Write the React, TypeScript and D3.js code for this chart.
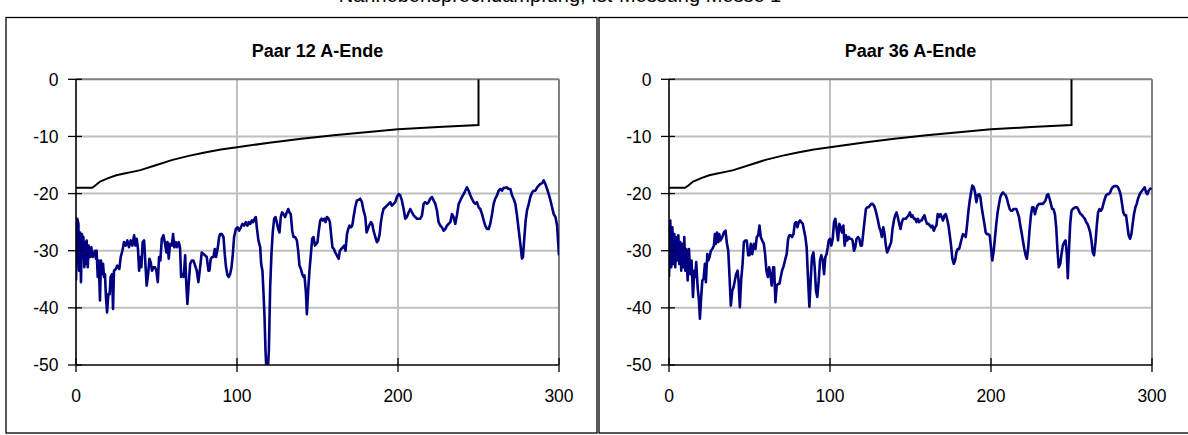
import React from 'react';
import * as d3 from 'd3';

const xTicks = [0, 100, 200, 300];
const yTicks = [0, -10, -20, -30, -40, -50];
const titles = ['Paar 12 A-Ende', 'Paar 36 A-Ende'];
const topCaption = 'Nahnebensprechdämpfung, Ist-Messung Messe 1';

// limit line (black)
const limitLine: [number, number][] = [
  [0, -19], [10, -19], [12, -18.6], [15, -17.9], [20, -17.3], [25, -16.8], [30, -16.5], [35, -16.2],
  [40, -15.9], [50, -15.0], [60, -14.1], [70, -13.4], [80, -12.8], [90, -12.3], [100, -11.9],
  [120, -11.1], [140, -10.4], [160, -9.8], [180, -9.25], [200, -8.75], [225, -8.35], [250, -8.0], [250, 0],
];

// measured NEXT, pair 12
const pair12: [number, number][] = [
  [0,-35.2],[0.8,-24.4],[1.5,-25.3],[1.9,-33.5],[2.5,-26.8],[3.1,-35.5],[3.7,-27.1],[4.1,-30.6],[4.6,-27.6],[5.2,-32.9],[5.8,-28.5],[6.2,-32.3],[6.6,-28.2],[7.3,-32.9],[7.9,-29.1],[8.7,-31.1],[9.5,-29.4],[10.4,-31.1],[11.2,-30.6],[11.8,-30.0],[12.4,-31.4],[12.8,-30.0],[13.5,-34.6],[14.1,-31.7],[14.9,-38.7],[15.5,-31.7],[16.2,-34.1],[16.8,-32.3],[17.4,-34.6],[18.0,-34.1],[18.6,-38.1],[19.3,-40.8],[20.1,-37.6],[20.9,-37.6],[21.5,-34.6],[22.4,-34.1],[23.0,-40.2],[23.6,-33.5],[24.7,-33.2],[25.7,-32.6],[26.9,-33.2],[27.8,-31.1],[28.8,-30.0],[29.8,-28.5],[30.9,-29.1],[31.9,-28.2],[32.9,-29.4],[34.0,-28.2],[35.0,-29.1],[36.1,-27.3],[36.9,-29.1],[37.7,-27.9],[38.5,-29.7],[39.2,-33.5],[39.8,-31.1],[40.6,-32.9],[41.4,-28.5],[42.3,-28.2],[43.1,-32.3],[43.9,-36.1],[44.8,-34.1],[45.6,-31.4],[46.4,-32.0],[47.2,-33.5],[48.1,-32.9],[49.1,-32.9],[49.9,-33.5],[50.8,-35.5],[51.6,-31.1],[52.4,-31.7],[53.3,-27.9],[54.3,-27.3],[55.3,-28.8],[56.2,-30.3],[56.8,-28.5],[57.6,-31.4],[58.4,-28.8],[59.5,-29.1],[60.3,-27.1],[61.1,-29.4],[62.0,-28.5],[62.8,-29.4],[63.8,-28.5],[64.6,-29.4],[65.3,-34.6],[66.1,-34.1],[66.9,-34.6],[67.8,-30.8],[68.6,-36.4],[69.2,-39.3],[70.0,-35.8],[70.9,-32.3],[71.9,-31.7],[72.9,-31.7],[74.0,-32.6],[75.0,-33.5],[76.0,-35.5],[77.1,-32.9],[78.1,-30.3],[79.2,-30.6],[80.2,-30.8],[81.2,-31.1],[82.3,-33.5],[82.9,-33.5],[83.7,-31.4],[84.5,-31.1],[85.4,-31.1],[86.2,-29.7],[87.0,-31.1],[88.1,-29.4],[88.9,-27.6],[89.5,-27.1],[90.6,-27.1],[91.6,-27.6],[92.4,-30.6],[93.2,-32.9],[94.1,-34.3],[94.9,-34.6],[95.7,-34.1],[96.6,-32.9],[97.4,-30.6],[98.2,-27.6],[99.3,-26.2],[100.3,-25.9],[101.3,-26.5],[102.4,-25.9],[103.4,-25.3],[104.4,-25.6],[105.5,-25.0],[106.5,-25.6],[107.3,-25.0],[108.2,-25.3],[109.2,-24.7],[110.0,-25.0],[110.9,-24.4],[111.7,-24.1],[112.3,-25.9],[113.3,-28.2],[114.4,-29.4],[115.0,-32.3],[115.8,-33.5],[116.4,-37.0],[117.1,-41.6],[117.7,-47.5],[118.3,-51],[119.1,-51],[119.8,-47.5],[120.6,-36.4],[121.4,-30.6],[122.2,-26.8],[123.1,-24.4],[123.9,-24.1],[124.7,-25.0],[125.6,-26.2],[126.4,-26.8],[127.2,-24.1],[128.0,-23.3],[128.9,-23.6],[129.9,-24.1],[130.9,-23.3],[131.8,-22.7],[132.6,-23.3],[133.4,-23.6],[134.3,-26.5],[135.1,-27.6],[136.1,-27.6],[137.2,-28.2],[138.0,-30.0],[138.8,-32.6],[139.7,-33.2],[140.5,-34.1],[141.3,-34.6],[141.9,-34.3],[142.8,-37.3],[143.4,-41.1],[144.2,-37.0],[145.0,-33.5],[145.9,-30.6],[146.7,-27.9],[147.5,-27.6],[148.4,-29.1],[149.2,-28.8],[150.0,-28.5],[150.8,-26.5],[151.7,-24.7],[152.5,-24.4],[153.3,-24.7],[154.2,-24.4],[155.0,-25.0],[155.8,-24.1],[156.9,-24.4],[157.7,-25.0],[158.5,-27.3],[159.3,-29.4],[160.2,-29.7],[161.0,-30.3],[162.0,-30.8],[163.1,-31.4],[163.9,-30.0],[164.7,-29.7],[165.8,-29.4],[166.6,-29.1],[167.4,-30.0],[168.3,-27.1],[169.1,-26.2],[169.9,-25.6],[170.7,-25.9],[171.6,-25.6],[172.4,-24.1],[173.4,-22.4],[174.5,-21.2],[175.5,-21.1],[176.5,-20.9],[177.6,-21.5],[178.6,-23.0],[179.7,-24.1],[180.5,-26.8],[181.3,-26.2],[182.1,-25.6],[183.2,-25.0],[184.0,-25.3],[184.8,-26.5],[185.9,-27.6],[186.9,-28.5],[187.7,-28.2],[188.6,-27.1],[189.4,-25.0],[190.2,-23.6],[191.0,-22.7],[192.1,-22.4],[193.1,-22.1],[194.2,-21.8],[195.2,-21.5],[196.2,-22.1],[197.3,-21.8],[198.3,-21.5],[199.3,-20.6],[200.4,-20.1],[201.4,-20.3],[202.4,-21.2],[203.5,-22.7],[204.5,-24.4],[205.5,-24.1],[206.6,-23.3],[207.6,-22.7],[208.7,-23.3],[209.7,-23.8],[210.7,-24.1],[211.8,-24.4],[212.8,-24.4],[213.8,-24.4],[214.9,-23.8],[215.9,-21.8],[216.9,-21.5],[218.0,-21.8],[219.0,-21.5],[220.0,-20.9],[221.1,-20.6],[222.1,-21.2],[223.2,-21.8],[224.2,-23.0],[225.2,-25.0],[226.3,-25.6],[227.3,-25.9],[228.3,-26.5],[229.4,-26.2],[230.4,-25.6],[231.4,-25.3],[232.5,-25.0],[233.5,-23.6],[234.5,-24.1],[235.6,-25.3],[236.6,-23.8],[237.7,-21.8],[238.7,-21.2],[239.7,-20.6],[240.8,-20.1],[241.8,-19.5],[242.8,-18.9],[243.9,-19.5],[244.9,-20.3],[245.9,-20.9],[247.0,-21.5],[248.0,-21.8],[249.0,-21.5],[250.1,-22.4],[251.1,-22.7],[252.2,-23.6],[253.2,-24.7],[254.2,-25.6],[255.3,-26.2],[256.3,-26.2],[257.3,-25.3],[258.4,-23.6],[259.4,-21.8],[260.4,-20.9],[261.5,-20.3],[262.5,-19.5],[263.6,-19.2],[264.6,-19.5],[265.6,-19.0],[266.7,-19.0],[267.7,-18.9],[268.7,-19.2],[269.8,-19.2],[270.8,-20.3],[271.8,-20.9],[272.9,-21.8],[273.9,-23.8],[274.9,-26.2],[276.0,-28.8],[277.0,-31.4],[277.6,-31.1],[278.5,-27.6],[279.3,-24.7],[280.1,-23.0],[281.2,-21.8],[282.2,-20.6],[283.3,-19.8],[284.3,-19.5],[285.3,-19.5],[286.4,-18.9],[287.4,-18.6],[288.4,-18.3],[289.5,-18.2],[290.5,-17.7],[291.5,-18.3],[292.6,-19.2],[293.6,-20.1],[294.7,-21.2],[295.7,-22.4],[296.7,-23.6],[297.8,-24.1],[298.8,-25.6],[300,-30.8],
];

// measured NEXT, pair 36
const pair36: [number, number][] = [
  [0,-34.6],[0.8,-24.7],[1.4,-32.9],[2.1,-25.9],[2.7,-32.3],[3.3,-27.1],[3.9,-32.9],[4.5,-27.6],[5.2,-31.7],[5.8,-27.3],[6.4,-32.3],[7.0,-28.5],[7.6,-33.5],[8.3,-28.8],[8.9,-32.9],[9.5,-27.6],[10.1,-33.5],[10.7,-29.7],[11.6,-35.2],[12.4,-29.7],[13.2,-34.1],[14.0,-31.7],[14.9,-38.1],[15.7,-33.5],[16.3,-34.6],[16.9,-32.0],[17.8,-36.4],[18.6,-38.7],[19.2,-41.9],[20.0,-38.1],[20.7,-35.2],[21.5,-34.9],[22.3,-32.3],[22.9,-35.5],[23.8,-30.6],[24.4,-31.7],[25.2,-31.1],[26.0,-30.0],[26.9,-29.7],[27.9,-29.1],[28.5,-27.1],[29.1,-28.8],[29.8,-26.8],[30.6,-28.5],[31.2,-27.1],[32.0,-28.2],[33.1,-27.6],[34.1,-26.8],[35.1,-26.5],[36.0,-28.8],[36.8,-30.0],[37.6,-34.6],[38.4,-39.6],[39.3,-37.0],[40.1,-36.4],[40.9,-35.2],[41.7,-34.1],[42.6,-33.5],[43.2,-35.2],[44.0,-39.9],[44.8,-35.2],[45.7,-32.3],[46.5,-28.5],[47.3,-28.2],[48.3,-28.2],[49.2,-30.8],[50.0,-30.8],[50.8,-28.8],[51.7,-30.6],[52.7,-28.8],[53.7,-29.7],[54.5,-27.6],[55.4,-27.3],[56.2,-25.6],[57.0,-27.6],[57.9,-28.2],[58.9,-28.8],[59.7,-30.6],[60.5,-33.5],[61.4,-34.6],[62.2,-32.9],[63.0,-34.1],[63.8,-36.1],[64.7,-32.9],[65.3,-32.9],[66.1,-39.0],[66.9,-36.1],[67.8,-35.8],[68.6,-35.8],[69.4,-34.6],[70.2,-33.5],[71.3,-32.6],[72.3,-31.4],[73.1,-30.6],[74.0,-27.9],[74.8,-27.3],[75.6,-27.3],[76.4,-27.6],[77.3,-27.1],[78.1,-25.3],[78.9,-25.0],[79.8,-25.9],[80.6,-25.0],[81.4,-24.7],[82.2,-25.0],[83.1,-25.3],[83.9,-26.5],[84.7,-27.6],[85.5,-29.4],[86.4,-35.2],[87.2,-39.8],[88.0,-35.2],[88.8,-31.1],[89.7,-30.3],[90.5,-32.9],[91.3,-37.0],[92.1,-38.1],[93.0,-35.2],[93.8,-31.7],[94.6,-30.8],[95.5,-31.7],[96.3,-34.1],[97.1,-31.1],[97.9,-30.6],[98.6,-29.4],[99.2,-28.2],[100.0,-27.9],[100.8,-29.1],[101.7,-27.9],[102.5,-25.0],[103.3,-24.4],[104.1,-26.2],[105.0,-28.2],[105.8,-25.3],[106.6,-25.9],[107.4,-26.8],[108.3,-25.6],[109.1,-29.1],[109.9,-27.3],[110.7,-28.2],[111.6,-27.6],[112.4,-27.9],[113.2,-27.9],[114.0,-28.2],[114.9,-30.0],[115.7,-29.4],[116.5,-27.9],[117.4,-27.6],[118.2,-27.9],[119.0,-29.1],[119.8,-29.1],[120.7,-26.8],[121.5,-24.7],[122.3,-22.7],[123.1,-22.4],[124.0,-22.4],[124.8,-22.1],[125.6,-21.8],[126.4,-21.8],[127.3,-22.1],[128.1,-22.7],[128.9,-23.6],[129.8,-24.7],[130.6,-25.9],[131.4,-26.5],[132.2,-27.6],[133.1,-25.9],[133.9,-27.1],[134.7,-29.1],[135.5,-30.3],[136.4,-29.7],[137.2,-29.1],[138.0,-28.5],[138.8,-26.2],[139.7,-24.7],[140.5,-23.8],[141.3,-23.3],[142.1,-24.1],[143.0,-25.3],[143.8,-26.2],[144.6,-25.0],[145.5,-24.4],[146.3,-24.4],[147.1,-24.4],[147.9,-24.1],[148.8,-23.8],[149.6,-23.3],[150.4,-24.1],[151.2,-23.8],[152.1,-24.4],[152.9,-24.4],[153.7,-25.0],[154.5,-24.4],[155.4,-25.0],[156.2,-24.7],[157.0,-24.7],[157.9,-24.1],[158.7,-23.8],[159.5,-24.7],[160.3,-25.3],[161.2,-25.3],[162.0,-25.6],[162.8,-25.9],[163.6,-25.6],[164.5,-26.5],[165.3,-25.9],[166.1,-25.6],[166.9,-23.6],[167.8,-24.1],[168.6,-23.6],[169.4,-24.1],[170.2,-24.7],[171.1,-23.8],[171.9,-23.6],[172.7,-24.4],[173.6,-25.6],[174.4,-27.3],[175.2,-29.1],[176.0,-31.4],[176.9,-32.3],[177.7,-31.7],[178.5,-30.3],[179.3,-29.7],[180.2,-29.7],[181.0,-28.8],[181.8,-27.9],[182.6,-27.1],[183.5,-27.3],[184.3,-27.6],[185.1,-25.6],[186.0,-23.0],[186.8,-21.2],[187.6,-19.8],[188.4,-18.6],[189.3,-18.9],[190.1,-19.8],[190.9,-21.5],[191.7,-20.3],[192.6,-20.1],[193.4,-20.6],[194.2,-22.4],[195.0,-23.8],[195.9,-25.3],[196.7,-26.8],[197.5,-27.1],[198.3,-27.1],[199.2,-27.3],[200.0,-29.4],[200.8,-31.7],[201.7,-30.0],[202.5,-27.6],[203.3,-25.3],[204.1,-23.3],[205.0,-21.8],[205.8,-20.6],[206.6,-20.1],[207.4,-19.8],[208.3,-20.1],[209.1,-20.3],[209.9,-20.9],[210.7,-21.8],[211.6,-22.7],[212.4,-23.0],[213.2,-23.0],[214.0,-22.7],[214.9,-22.7],[215.7,-22.7],[216.5,-23.3],[217.4,-24.1],[218.2,-25.6],[219.0,-26.8],[219.8,-28.2],[220.7,-29.7],[221.5,-30.8],[222.3,-31.4],[223.1,-29.4],[224.0,-26.2],[224.8,-23.8],[225.6,-22.4],[226.4,-22.4],[227.3,-23.6],[228.1,-22.7],[228.9,-22.1],[229.8,-21.8],[230.6,-21.8],[231.4,-21.8],[232.2,-21.8],[233.1,-21.5],[233.9,-21.2],[234.7,-20.3],[235.5,-20.1],[236.4,-20.9],[237.2,-21.8],[238.0,-22.7],[238.8,-22.7],[239.7,-23.6],[240.5,-25.9],[241.3,-30.0],[242.1,-32.9],[243.0,-32.3],[243.8,-30.6],[244.6,-29.1],[245.5,-28.5],[246.3,-28.2],[247.1,-30.6],[247.7,-34.8],[248.3,-30.6],[249.2,-25.3],[250.0,-23.0],[250.8,-22.7],[251.7,-22.5],[252.5,-22.4],[253.3,-22.4],[254.1,-22.7],[255.0,-23.3],[255.8,-23.6],[256.6,-23.8],[257.4,-24.1],[258.3,-24.4],[259.1,-25.0],[259.9,-25.3],[260.7,-25.9],[261.6,-26.8],[262.4,-28.2],[263.2,-30.3],[264.0,-30.8],[264.9,-28.5],[265.7,-25.6],[266.5,-23.3],[267.4,-22.7],[268.2,-23.0],[269.0,-22.7],[269.8,-21.8],[270.7,-20.9],[271.5,-20.3],[272.3,-20.1],[273.1,-20.1],[274.0,-19.8],[274.8,-19.2],[275.6,-18.9],[276.4,-18.7],[277.3,-18.7],[278.1,-18.7],[278.9,-18.9],[279.8,-19.5],[280.6,-20.3],[281.4,-21.8],[282.2,-23.3],[283.1,-23.8],[283.9,-23.8],[284.7,-25.6],[285.5,-27.3],[286.4,-27.9],[287.2,-27.1],[288.0,-25.3],[288.8,-23.6],[289.7,-22.4],[290.5,-21.8],[291.3,-20.9],[292.1,-20.3],[293.0,-19.8],[293.8,-19.5],[294.6,-19.2],[295.5,-18.9],[296.3,-19.8],[297.1,-20.1],[297.9,-19.5],[298.8,-19.2],[299.6,-19.0],
];

const W = 1188;
const H = 435;
const FONT = '"Liberation Sans", Arial, sans-serif';

type PanelProps = { px: number; title: string; data: [number, number][]; id: string };

function Panel({ px, title, data, id }: PanelProps) {
  const left = px + 70;
  const right = left + 483;
  const top = 79.3;
  const bottom = 365;
  const x = d3.scaleLinear().domain([0, 300]).range([left, right]);
  const y = d3.scaleLinear().domain([-50, 0]).range([bottom, top]);
  const line = d3.line<[number, number]>().x(d => x(d[0])).y(d => y(d[1]));
  return (
    <g>
      <rect x={px} y={17.5} width={591} height={415.5} fill="#fff" stroke="#000" strokeWidth={1.3} />
      <text x={(left + right) / 2} y={57} textAnchor="middle" fontFamily={FONT} fontWeight="bold" fontSize={18}>{title}</text>
      <defs>
        <clipPath id={id}>
          <rect x={left} y={top} width={right - left} height={bottom - top} />
        </clipPath>
      </defs>
      {yTicks.filter(t => t !== -50 && t !== 0).map(t => (
        <line key={'gy' + t} x1={left} x2={right} y1={y(t)} y2={y(t)} stroke="#c0c0c0" strokeWidth={2} />
      ))}
      {xTicks.filter(t => t !== 0 && t !== 300).map(t => (
        <line key={'gx' + t} x1={x(t)} x2={x(t)} y1={top} y2={bottom} stroke="#c0c0c0" strokeWidth={2} />
      ))}
      <line x1={left} x2={right} y1={top} y2={top} stroke="#808080" strokeWidth={2} />
      <line x1={right} x2={right} y1={top} y2={bottom} stroke="#808080" strokeWidth={2} />
      <g clipPath={`url(#${id})`}>
        <path d={line(limitLine) || ''} fill="none" stroke="#000" strokeWidth={2} />
        <path d={line(data) || ''} fill="none" stroke="#000080" strokeWidth={2.6} strokeLinejoin="round" />
      </g>
      <line x1={left} x2={left} y1={top} y2={bottom} stroke="#000" strokeWidth={1.6} />
      <line x1={left} x2={right} y1={bottom} y2={bottom} stroke="#000" strokeWidth={1.6} />
      {yTicks.map(t => (
        <g key={'ty' + t}>
          <line x1={left - 8} x2={left + 6} y1={y(t)} y2={y(t)} stroke="#000" strokeWidth={1.3} />
          <text x={left - 17.5} y={y(t) + 6.3} textAnchor="end" fontFamily={FONT} fontSize={17.5}>{t}</text>
        </g>
      ))}
      {xTicks.map(t => (
        <g key={'tx' + t}>
          <line x1={x(t)} x2={x(t)} y1={bottom - 7} y2={bottom + 7} stroke="#000" strokeWidth={1.3} />
          <text x={x(t)} y={401.5} textAnchor="middle" fontFamily={FONT} fontSize={17.5}>{t}</text>
        </g>
      ))}
    </g>
  );
}

export default function App() {
  return (
    <svg width={W} height={H} style={{ position: 'absolute', left: 0, top: 0, background: '#fff' }}>
      <rect x={0} y={0} width={W} height={H} fill="#fff" />
      <text x={560} y={1.5} textAnchor="middle" fontFamily={FONT} fontSize={20}>{topCaption}</text>
      <Panel px={6} title={titles[0]} data={pair12} id="clipA" />
      <Panel px={599} title={titles[1]} data={pair36} id="clipB" />
    </svg>
  );
}
